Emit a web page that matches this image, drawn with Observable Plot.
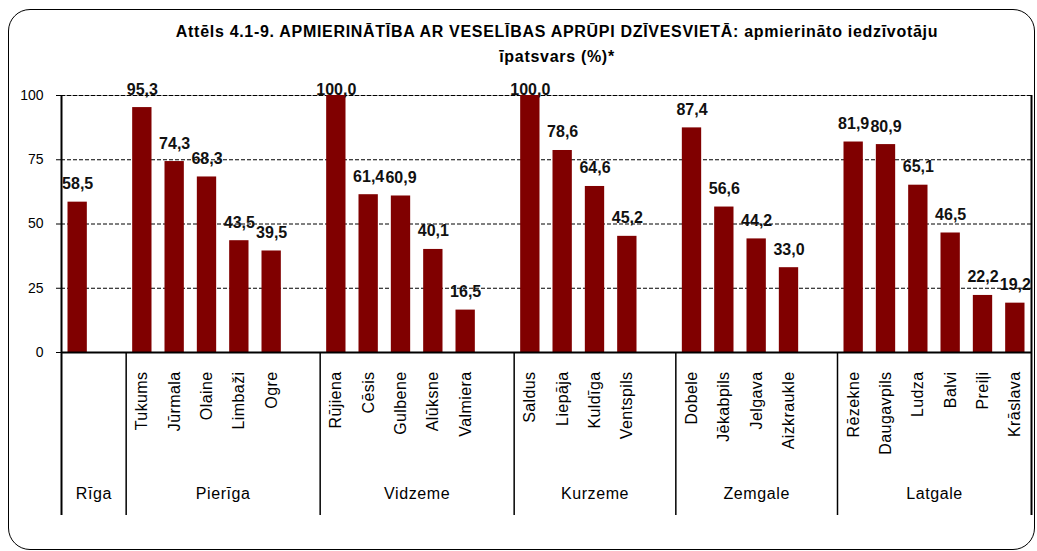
<!DOCTYPE html>
<html>
<head>
<meta charset="utf-8">
<script src="https://cdn.jsdelivr.net/npm/d3@7"></script>
<script src="https://cdn.jsdelivr.net/npm/@observablehq/plot@0.6"></script>
<style>
  html, body { margin: 0; padding: 0; background: #fff; overflow: hidden; }
  #wrap { position: relative; width: 1037px; height: 551px; font-family: "Liberation Sans", Arial, sans-serif; }
  #frame { position: absolute; left: 8px; top: 9px; width: 1025px; height: 539px; border: 1.5px solid #000; border-radius: 22px; }
  #title { position: absolute; left: 0; top: 19px; width: 1114px; text-align: center; font-weight: bold; font-size: 16px; letter-spacing: 0.7px; line-height: 25px; color: #000; }
  #chart { position: absolute; left: 0; top: 0; }
</style>
</head>
<body>
<div id="wrap">
  <div id="frame"></div>
  <div id="chart"></div>
  <div id="title">Attēls 4.1-9. APMIERINĀTĪBA AR VESELĪBAS APRŪPI DZĪVESVIETĀ: apmierināto iedzīvotāju<br>īpatsvars (%)*</div>
</div>
<script>
const groups = ["Rīga", "Pierīga", "Vidzeme", "Kurzeme", "Zemgale", "Latgale"];
const cities = [
  [""],
  ["Tukums", "Jūrmala", "Olaine", "Limbaži", "Ogre"],
  ["Rūjiena", "Cēsis", "Gulbene", "Alūksne", "Valmiera"],
  ["Saldus", "Liepāja", "Kuldīga", "Ventspils"],
  ["Dobele", "Jēkabpils", "Jelgava", "Aizkraukle"],
  ["Rēzekne", "Daugavpils", "Ludza", "Balvi", "Preiļi", "Krāslava"]
];
const values = [
  [58.5],
  [95.3, 74.3, 68.3, 43.5, 39.5],
  [100.0, 61.4, 60.9, 40.1, 16.5],
  [100.0, 78.6, 64.6, 45.2],
  [87.4, 56.6, 44.2, 33.0],
  [81.9, 80.9, 65.1, 46.5, 22.2, 19.2]
];
const yTicks = [0, 25, 50, 75, 100];

// Build slot-indexed table: each group followed by one empty slot (except last)
const bars = [];
const groupSpans = [];
let slot = 0;
groups.forEach((g, gi) => {
  const start = slot;
  cities[gi].forEach((c, ci) => {
    bars.push({group: g, city: c, value: values[gi][ci], slot: slot});
    slot++;
  });
  if (gi < groups.length - 1) slot++;
  groupSpans.push({group: g, start, end: slot});
});
const nSlots = slot;
const innerBounds = groupSpans.slice(0, -1).map(d => d.end);
const fmt = v => v.toFixed(1).replace(".", ",");

const plot = Plot.plot({
  width: 1037,
  height: 551,
  marginLeft: 61,
  marginRight: 6,
  marginTop: 95,
  marginBottom: 199,
  style: {fontFamily: '"Liberation Sans", Arial, sans-serif', background: "transparent", overflow: "visible"},
  x: {type: "linear", domain: [0, nSlots], axis: null},
  y: {domain: [0, 100], axis: null},
  marks: [
    Plot.ruleY([100], {stroke: "#999", strokeWidth: 1}),
    Plot.ruleY(yTicks.filter(t => t > 0), {stroke: "#000", strokeWidth: 1, strokeDasharray: "4,2"}),
    Plot.rect(bars, {x1: "slot", x2: d => d.slot + 1, y1: 0, y2: "value", fill: "#800000", insetLeft: 6.5, insetRight: 6.5}),
    Plot.ruleY([0], {stroke: "#000", strokeWidth: 2}),
    Plot.ruleX([0, nSlots], {stroke: "#000", strokeWidth: 2, insetBottom: -163}),
    Plot.ruleX(innerBounds, {y1: 0, y2: 0, stroke: "#000", strokeWidth: 1.5, insetBottom: -163}),
    Plot.axisY({ticks: yTicks, tickSize: 5, tickPadding: 13, fontSize: 14, tickFormat: d => d, stroke: "#000", label: null}),
    Plot.text(bars, {
      x: d => d.slot + 0.5, y: d => Math.min(d.value, 95), text: d => fmt(d.value),
      lineAnchor: "bottom", dy: -13, fontSize: 16, fontWeight: "bold", fill: "#111"
    }),
    Plot.text(bars.filter(d => d.city), {
      x: d => d.slot + 0.5, frameAnchor: "bottom", text: "city", rotate: -90,
      textAnchor: "end", lineAnchor: "middle", dy: 19, fontSize: 16, fill: "#000"
    }),
    Plot.text(groupSpans, {
      x: d => (d.start + d.end) / 2, frameAnchor: "bottom", text: "group",
      lineAnchor: "middle", dy: 141, fontSize: 16, fill: "#000"
    })
  ]
});
// widen letter spacing of category labels to match the reference's looser text
const textGroups = d3.select(plot).selectAll('g[aria-label="text"]').nodes();
if (textGroups.length >= 3) {
  d3.select(textGroups[1]).attr("letter-spacing", "0.4px");
  d3.select(textGroups[2]).attr("letter-spacing", "0.6px");
}
document.getElementById("chart").appendChild(plot);
</script>
</body>
</html>
